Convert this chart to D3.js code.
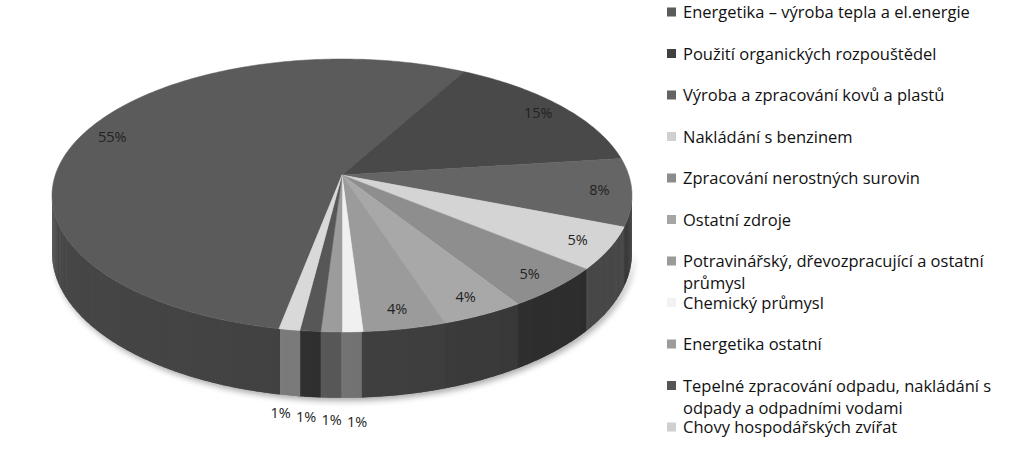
<!DOCTYPE html>
<html>
<head>
<meta charset="utf-8">
<script src="https://cdn.jsdelivr.net/npm/d3@7"></script>
<style>
  body { margin: 0; background: #fff; }
  svg { display: block; }
</style>
</head>
<body>
<div id="chart"></div>
<script>
// categories (legend order = slice order, clockwise)
var categories = [
  "Energetika \u2013 výroba tepla a el.energie",
  "Použití organických rozpouštědel",
  "Výroba a zpracování kovů a plastů",
  "Nakládání s benzinem",
  "Zpracování nerostných surovin",
  "Ostatní zdroje",
  "Potravinářský, dřevozpracující a ostatní\nprůmysl",
  "Chemický průmysl",
  "Energetika ostatní",
  "Tepelné zpracování odpadu, nakládání s\nodpady a odpadními vodami",
  "Chovy hospodářských zvířat"
];
// shares in percent
var values = [55, 15, 8, 5, 5, 4, 4, 1, 1, 1, 1];
var valueLabels = ["55%", "15%", "8%", "5%", "5%", "4%", "4%", "1%", "1%", "1%", "1%"];

// colours (grey scale print of the original)
var topColors  = ["#5b5b5b", "#494949", "#656565", "#d4d4d4", "#8e8e8e", "#a8a8a8", "#9b9b9b", "#f0f0f0", "#9c9c9c", "#575757", "#d9d9d9"];
var sideColors = ["#404040", "#333333", "#3a3a3a", "#505050", "#323232", "#3d3d3d", "#404040", "#737373", "#575757", "#2f2f2f", "#787878"];
var legendColors = ["#5b5b5b", "#404040", "#636363", "#d0d0d0", "#8c8c8c", "#a5a5a5", "#9a9a9a", "#f2f2f2", "#9c9c9c", "#555555", "#d0d0d0"];

var width = 1024, height = 462;

var svg = d3.select("#chart").append("svg")
  .attr("width", width)
  .attr("height", height);

svg.append("rect").attr("width", width).attr("height", height).attr("fill", "#fff");

// 3D pie geometry (perspective view of a flat cylinder)
var cx = 342, cy = 175;      // where slices meet
var A = 286.7, B = 133.4;    // half axes before perspective
var q = 0.15;                // perspective strength
var depth = 56;              // thickness of the disc
var deg = Math.PI / 180;
var firstAngle = 190.8 * deg;

function proj(theta, r, z) {
  var u = r * Math.sin(theta), v = -r * Math.cos(theta);
  var w = 1 - q * v;
  return [cx + A * u / w, cy + B * v / w + z / w];
}

var pie = d3.pie().sort(null).value(function(d) { return d; })
  .startAngle(firstAngle).endAngle(firstAngle + 2 * Math.PI);
var arcs = pie(values);

function sliceAt(theta) {
  var t = theta;
  while (t < firstAngle) t += 2 * Math.PI;
  while (t >= firstAngle + 2 * Math.PI) t -= 2 * Math.PI;
  for (var i = 0; i < arcs.length; i++) {
    if (t >= arcs[i].startAngle && t < arcs[i].endAngle) return i;
  }
  return arcs.length - 1;
}

var line = d3.line().curve(d3.curveLinearClosed);

var defs = svg.append("defs");
var blur = defs.append("filter").attr("id", "shadow")
  .attr("x", "-10%").attr("y", "-10%").attr("width", "120%").attr("height", "130%");
blur.append("feGaussianBlur").attr("stdDeviation", 3);

// visible part of the side wall
var sideFrom = Math.acos(-q), sideTo = 2 * Math.PI - Math.acos(-q);

// soft shadow under the disc
var shadowPts = [];
for (var t = sideFrom; t <= sideTo + 1e-9; t += deg) shadowPts.push(proj(t, 1, depth));
for (var t2 = sideTo; t2 >= sideFrom - 1e-9; t2 -= deg) shadowPts.push(proj(t2, 1, depth - 8));
svg.append("path")
  .attr("d", line(shadowPts))
  .attr("transform", "translate(2,3)")
  .attr("fill", "#000")
  .attr("opacity", 0.35)
  .attr("filter", "url(#shadow)");

// side wall in narrow strips, so shading can change along the rim.
// each strip runs a little into the next one to hide seams
var step = 0.5 * deg;
var sideG = svg.append("g");
for (var a = sideFrom; a < sideTo; a += step) {
  var a1 = Math.min(a + step, sideTo);
  var mid = (a + a1) / 2;
  var i = sliceAt(mid);
  var shade = 1 - 0.12 * Math.sin(mid);
  var c = d3.color(sideColors[i]);
  var col = d3.rgb(c.r * shade, c.g * shade, c.b * shade).toString();
  var a2 = Math.min(a1 + step * 0.8, sideTo);
  var pts = [proj(a, 1, 0), proj(a2, 1, 0), proj(a2, 1, depth), proj(a, 1, depth)];
  sideG.append("path")
    .attr("d", line(pts))
    .attr("fill", col);
}

// top faces
var topG = svg.append("g");
arcs.forEach(function(d, i) {
  var pts = [proj(0, 0, 0)];
  var n = Math.max(2, Math.ceil((d.endAngle - d.startAngle) / deg));
  for (var k = 0; k <= n; k++) {
    pts.push(proj(d.startAngle + (d.endAngle - d.startAngle) * k / n, 1, 0));
  }
  topG.append("path")
    .attr("d", line(pts))
    .attr("fill", topColors[i])
    .attr("stroke", topColors[i])
    .attr("stroke-width", 0.5);
});

// value labels: big slices inside, small ones under the front rim
var labelFont = "'Open Sans', Lato, sans-serif";
var outside = [];
arcs.forEach(function(d, i) {
  var mid = (d.startAngle + d.endAngle) / 2;
  if (d.value >= 2) {
    var p = proj(mid, 0.89, 0);
    svg.append("text")
      .attr("x", p[0]).attr("y", p[1] + 5)
      .attr("text-anchor", "middle")
      .attr("font-family", labelFont)
      .attr("font-size", 14.5)
      .attr("fill", "#222")
      .text(valueLabels[i]);
  } else {
    var pb = proj(mid, 1, depth);
    outside.push({ i: i, x: pb[0], y: pb[1] });
  }
});
// spread the small labels so they do not overlap
outside.sort(function(a, b) { return a.x - b.x; });
var gap = 25.5;
var centre = d3.mean(outside, function(o) { return o.x; });
outside.forEach(function(o, k) {
  o.x = centre + (k - (outside.length - 1) / 2) * gap - 2;
});
outside.forEach(function(o, k) {
  svg.append("text")
    .attr("x", o.x).attr("y", o.y + 23 + k * 2)
    .attr("text-anchor", "middle")
    .attr("font-family", labelFont)
    .attr("font-size", 14.5)
    .attr("fill", "#222")
    .text(valueLabels[o.i]);
});

// legend
var legendY = d3.scaleLinear().domain([0, categories.length - 1]).range([12, 427]);
var legend = svg.append("g");
categories.forEach(function(name, i) {
  var y = legendY(i);
  legend.append("rect")
    .attr("x", 667).attr("y", y - 4.5)
    .attr("width", 9).attr("height", 9)
    .attr("fill", legendColors[i]);
  var t = legend.append("text")
    .attr("x", 683).attr("y", y + 6)
    .attr("font-family", labelFont)
    .attr("font-size", 16.5)
    .attr("fill", "#111");
  name.split("\n").forEach(function(part, j) {
    t.append("tspan").attr("x", 683).attr("dy", j === 0 ? 0 : 22).text(part);
  });
});
</script>
</body>
</html>
